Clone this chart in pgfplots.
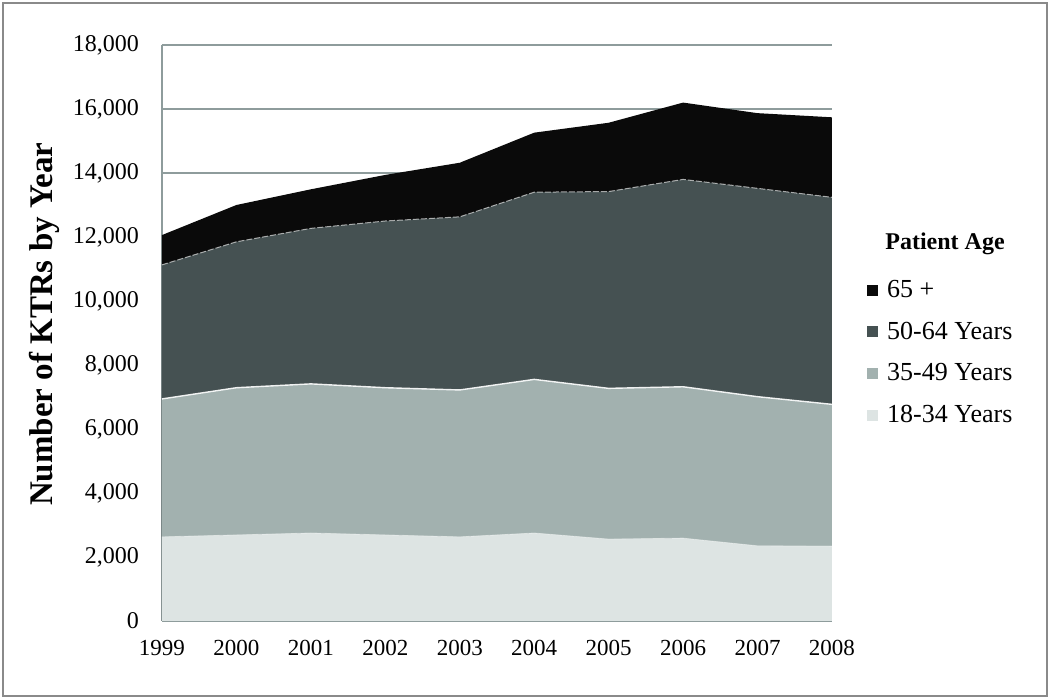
\documentclass[border=0pt]{standalone}
\usepackage{pgfplots}
\pgfplotsset{compat=1.18}
\usepackage{fontspec}
\setmainfont{Liberation Serif}
\definecolor{cA}{HTML}{0A0A0A}
\definecolor{cB}{HTML}{455152}
\definecolor{cC}{HTML}{A2B1AF}
\definecolor{cD}{HTML}{DDE4E3}
\definecolor{gridc}{HTML}{8E9C9C}
\definecolor{framec}{HTML}{8A8A8A}
% cumulative layer tops
\pgfplotstableread{
year c1834 c3549 c5064 c65
1999 2630 6940 11130 12060
2000 2690 7290 11850 13000
2001 2750 7410 12270 13490
2002 2690 7290 12500 13940
2003 2630 7220 12630 14320
2004 2750 7550 13400 15260
2005 2560 7270 13420 15570
2006 2590 7320 13800 16200
2007 2350 7010 13520 15870
2008 2340 6770 13240 15740
}\data
\begin{document}
\begin{tikzpicture}
\path[use as bounding box] (-81pt,-39pt) rectangle (444pt,310.5pt);
\draw[framec, line width=0.8pt] (-79.5pt,-37.5pt) rectangle (442.5pt,309pt);
\begin{axis}[
  name=ax,
  at={(0pt,0pt)}, anchor=south west,
  scale only axis, width=335pt, height=288pt,
  xmin=1999, xmax=2008, ymin=0, ymax=18000,
  xtick={1999,2000,2001,2002,2003,2004,2005,2006,2007,2008},
  xticklabels={1999,2000,2001,2002,2003,2004,2005,2006,2007,2008},
  ytick={0,2000,...,18000},
  scaled y ticks=false,
  /pgf/number format/1000 sep={,},
  /pgf/number format/assume math mode=true,
  xticklabel style={yshift=-6pt, font=\fontsize{11.5}{13}\selectfont},
  yticklabel style={xshift=-8pt, font=\fontsize{12}{14}\selectfont},
  major tick length=0pt,
  axis x line*=bottom, axis y line*=left,
  axis line style={gridc, line width=0.8pt, -},
  ymajorgrids, grid style={gridc, line width=0.8pt},
  ylabel={\bfseries Number of KTRs by Year},
  ylabel style={at={(axis description cs:-0.175,0.515)}, anchor=center, font=\fontsize{16.5}{18}\selectfont},
  legend style={draw=none, fill=none, at={(axis description cs:1.052,0.598)}, anchor=north west,
    font=\fontsize{13}{15}\selectfont, row sep=7.8pt, inner sep=0pt, nodes={inner sep=1.5pt}},
  legend cell align=left,
  legend image code/.code={\fill[#1] (0pt,-2.75pt) rectangle (5.5pt,2.75pt); \path (8.5pt,0pt);},
]
\addplot[fill=cA, draw=none] table[x=year, y=c65] {\data} \closedcycle;
\addlegendentry{65 +}
\addplot[fill=cB, draw=none] table[x=year, y=c5064] {\data} \closedcycle;
\addlegendentry{50-64 Years}
\addplot[fill=cC, draw=none] table[x=year, y=c3549] {\data} \closedcycle;
\addlegendentry{35-49 Years}
\addplot[fill=cD, draw=none] table[x=year, y=c1834] {\data} \closedcycle;
\addlegendentry{18-34 Years}
\addplot[forget plot, white, line width=0.7pt, opacity=0.9] table[x=year, y=c3549] {\data};
\addplot[forget plot, white, line width=0.5pt, opacity=0.6, dash pattern=on 3pt off 1pt] table[x=year, y=c5064] {\data};
\addplot[forget plot, white, line width=0.4pt, opacity=0.4] table[x=year, y=c1834] {\data};
\end{axis}
\node[font=\fontsize{12}{14}\selectfont\bfseries] at (391.5pt,188.5pt) {Patient Age};
\end{tikzpicture}
\end{document}
